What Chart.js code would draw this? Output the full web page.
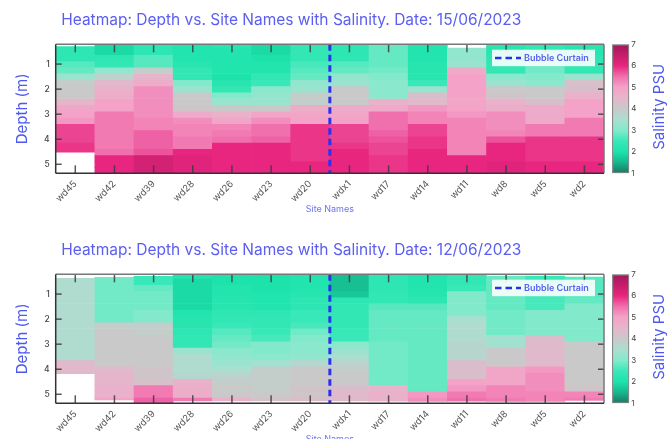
<!DOCTYPE html>
<html><head><meta charset="utf-8">
<script src="https://cdn.jsdelivr.net/npm/chart.js@4.4.0/dist/chart.umd.min.js"></script>
<style>
html,body{margin:0;padding:0;background:#fff;width:667px;height:439px;overflow:hidden;}
.c{position:absolute;}
</style></head><body>
<div class="c" style="left:0;top:0;"><canvas id="h1" width="610" height="230"></canvas></div>
<div class="c" style="left:606px;top:0;"><canvas id="c1" width="61" height="230"></canvas></div>
<div class="c" style="left:0;top:230px;"><canvas id="h2" width="610" height="230"></canvas></div>
<div class="c" style="left:606px;top:230px;"><canvas id="c2" width="61" height="230"></canvas></div>
<script>
// ---------- data ----------
const sites = ['wd45','wd42','wd39','wd28','wd26','wd23','wd20','wdx1','wd17','wd14','wd11','wd8','wd5','wd2'];
const depthBins = [0.25,0.5,0.75,1.0,1.25,1.5,1.75,2.0,2.25,2.5,2.75,3.0,3.25,3.5,3.75,4.0,4.25,4.5,4.75,5.0,5.25]; // bin centres (m)
const binHalfWidth = 0.125;
const depthRange = [0.21, 5.36];
const depthTicks = [1,2,3,4,5];
const salinityTicks = [1,2,3,4,5,6,7];
const bubbleCurtainAt = 6.5; // between wd20 and wdx1 (category index)
const dates = ['15/06/2023','12/06/2023'];

// 15/06/2023 salinity profiles (PSU) per site, one value per depth bin
const sal15_wd45 = [2.3,2.3,2.3,2.7,2.8,3.3,3.9,4.0,4.0,4.5,4.9,5.0,5.1,5.8,5.8,5.8,5.9,5.9,null,null,null];
const sal15_wd42 = [1.9,1.9,2.3,2.4,3.2,3.8,4.4,4.6,4.7,5.0,5.0,5.4,5.4,5.4,5.4,5.4,5.4,5.5,6.0,6.0,6.0];
const sal15_wd39 = [2.3,2.3,2.7,2.7,3.9,4.5,4.7,5.2,5.2,5.2,5.2,5.2,5.3,5.3,5.6,5.6,5.6,5.7,6.3,6.3,6.3];
const sal15_wd28 = [2.1,2.1,2.1,2.2,2.4,2.4,3.0,3.3,4.0,4.0,4.1,4.8,5.2,5.3,5.3,5.4,5.4,6.0,6.1,6.1,6.1];
const sal15_wd26 = [2.2,2.1,2.1,2.1,2.1,2.0,2.2,2.4,3.0,3.3,4.0,4.6,4.9,5.3,5.4,5.5,6.0,6.0,6.0,6.0,6.0];
const sal15_wd23 = [1.9,1.9,2.0,2.1,2.1,2.4,2.5,3.1,3.2,3.3,4.0,4.9,5.2,5.5,5.5,5.6,6.0,6.0,6.0,6.0,6.0];
const sal15_wd20 = [2.4,2.4,2.4,2.6,2.7,2.8,3.2,3.3,3.9,3.9,4.7,4.9,5.0,5.9,5.9,5.9,5.9,5.9,5.9,6.0,6.0];
const sal15_wdx1 = [2.3,2.3,2.3,2.7,2.8,3.2,3.3,4.0,4.0,4.0,4.8,4.9,5.0,5.8,5.8,5.8,5.9,6.0,6.0,6.0,6.0];
const sal15_wd17 = [2.8,2.8,2.8,2.8,2.9,3.0,3.1,3.1,3.1,4.6,4.8,5.5,5.5,5.5,5.6,5.7,5.8,5.8,5.9,5.9,5.9];
const sal15_wd14 = [2.1,2.1,2.1,2.2,2.2,2.2,2.5,3.3,4.3,4.4,5.1,5.3,5.3,5.8,5.8,5.9,5.9,6.0,6.0,6.0,6.0];
const sal15_wd11 = [3.2,3.2,3.2,3.3,4.8,5.0,5.0,5.0,5.0,4.9,5.0,5.1,5.3,5.3,5.3,5.3,5.3,5.3,6.0,6.0,6.0];
const sal15_wd8  = [2.2,2.2,2.3,2.4,2.4,3.1,3.3,4.0,4.1,4.6,4.7,5.2,5.2,5.2,5.3,5.7,6.0,6.0,6.0,6.1,6.1];
const sal15_wd5  = [2.4,2.4,2.5,2.8,2.9,3.0,3.1,4.0,4.0,4.3,4.8,4.8,4.8,5.4,5.4,5.9,5.9,5.9,5.9,6.0,6.0];
const sal15_wd2  = [2.2,2.2,2.3,2.4,2.4,3.3,4.2,4.3,4.6,5.0,5.0,5.0,5.4,5.4,5.4,5.9,5.9,5.9,5.9,6.0,6.0];
const top15    = [0.30,0.21,0.21,0.21,0.21,0.21,0.21,0.21,0.21,0.21,0.36,0.21,0.21,0.21];
const bottom15 = [4.52,5.36,5.36,5.36,5.36,5.36,5.36,5.36,5.36,5.36,5.36,5.36,5.36,5.36];

// 12/06/2023
const sal12_wd45 = [3.6,3.6,3.6,3.6,3.6,3.6,3.6,3.6,3.6,3.6,3.6,3.6,3.6,3.6,4.4,4.4,4.4,null,null,null,null];
const sal12_wd42 = [2.9,2.9,2.9,2.9,2.9,2.9,2.9,2.9,3.9,4.0,4.0,4.0,4.0,4.0,4.0,4.4,4.5,4.5,4.6,4.6,5.0];
const sal12_wd39 = [2.5,2.5,2.8,2.9,2.9,2.9,3.0,3.0,3.9,3.9,4.0,4.0,4.0,4.0,4.0,4.1,4.1,4.2,5.4,5.4,5.6];
const sal12_wd28 = [2.1,1.9,1.9,1.9,1.9,1.9,2.1,2.2,2.2,2.3,2.4,2.4,3.3,3.6,3.6,3.6,3.7,4.6,4.7,4.7,5.4];
const sal12_wd26 = [2.0,2.0,2.1,2.1,2.2,2.2,2.3,2.4,2.5,2.7,2.8,2.9,3.1,3.2,3.3,3.5,3.8,3.9,4.0,4.0,4.6];
const sal12_wd23 = [2.0,2.0,2.0,2.1,2.1,2.1,2.3,2.4,2.4,2.5,2.6,3.0,3.0,3.1,3.4,3.9,3.9,3.9,3.9,4.0,4.2];
const sal12_wd20 = [2.1,2.1,2.1,2.2,2.3,2.3,2.5,2.5,2.6,2.9,3.0,3.1,3.1,3.2,3.7,4.0,4.0,4.0,4.1,4.1,4.3];
const sal12_wdx1 = [1.6,1.6,1.6,1.7,2.3,2.4,2.4,2.4,2.4,2.5,2.5,3.1,3.3,3.5,3.8,3.9,4.0,4.0,4.3,4.4,4.4];
const sal12_wd17 = [2.3,2.3,2.3,2.4,2.4,2.7,2.8,2.8,2.8,2.8,2.8,2.9,2.9,2.9,2.9,2.9,2.9,2.9,4.5,4.6,4.6];
const sal12_wd14 = [2.1,2.1,2.1,2.2,2.3,2.7,2.8,2.8,2.8,2.8,2.8,2.8,2.8,2.8,2.8,2.8,2.8,2.8,2.8,5.1,5.2];
const sal12_wd11 = [2.4,2.4,2.5,3.0,3.0,3.0,3.0,3.5,3.6,3.6,3.6,3.7,3.7,3.7,4.3,4.3,4.3,5.0,5.1,5.4,5.5];
const sal12_wd8  = [2.8,2.8,2.8,2.8,2.8,2.8,2.9,2.9,2.9,2.9,3.4,3.4,4.0,4.0,4.0,4.9,4.9,4.9,5.3,5.3,5.4];
const sal12_wd5  = [2.5,2.5,2.5,2.6,2.6,2.6,3.0,3.0,3.0,3.0,4.3,4.4,4.4,4.4,4.4,5.1,5.2,5.2,5.2,5.3,5.3];
const sal12_wd2  = [2.7,2.7,2.7,2.7,2.8,3.0,3.0,3.0,3.0,3.0,3.0,4.0,4.0,4.0,4.0,4.0,4.0,4.0,4.1,5.3,5.4];
const top12    = [0.37,0.33,0.29,0.25,0.21,0.21,0.21,0.21,0.21,0.21,0.21,0.28,0.28,0.32];
const bottom12 = [4.18,5.23,5.33,5.26,5.26,5.26,5.26,5.26,5.27,5.28,5.27,5.28,5.28,5.25];

const sal15 = [sal15_wd45,sal15_wd42,sal15_wd39,sal15_wd28,sal15_wd26,sal15_wd23,sal15_wd20,sal15_wdx1,sal15_wd17,sal15_wd14,sal15_wd11,sal15_wd8,sal15_wd5,sal15_wd2];
const sal12 = [sal12_wd45,sal12_wd42,sal12_wd39,sal12_wd28,sal12_wd26,sal12_wd23,sal12_wd20,sal12_wdx1,sal12_wd17,sal12_wd14,sal12_wd11,sal12_wd8,sal12_wd5,sal12_wd2];

// ---------- colour map ----------
const cmapValues = [1,1.5,2,2.5,3,3.5,4,4.5,5,5.5,6,6.5,7];
const cmapColors = ['#1e7564','#16b68c','#1de3ab','#38e8b8','#82eacb','#aadfd0','#c9c9c9','#e6b5cb','#f4a2c7','#f070ae','#e8267f','#c51d6c','#a0195c'];
function hex2rgb(h){return [1,3,5].map(i=>parseInt(h.substr(i,2),16));}
function colorFor(v){
  if (v <= cmapValues[0]) return cmapColors[0];
  for (let k=1;k<cmapValues.length;k++){
    if (v <= cmapValues[k]){
      const t=(v-cmapValues[k-1])/(cmapValues[k]-cmapValues[k-1]);
      const a=hex2rgb(cmapColors[k-1]), b=hex2rgb(cmapColors[k]);
      return 'rgb('+a.map((x,i)=>Math.round(x+(b[i]-x)*t)).join(',')+')';
    }
  }
  return cmapColors[cmapColors.length-1];
}

Chart.defaults.font.family = 'Inter';
const TITLE_COLOR = '#5b5ef0';

function buildDatasets(profiles, tops, bottoms){
  const ds = depthBins.map((c,j)=>({
    type:'bar', label:'d'+c, order:1,
    data: sites.map((s,i)=>{
      const v = profiles[i][j];
      if (v == null) return null;
      const a = Math.max(c-binHalfWidth, tops[i]);
      const b = Math.min(c+binHalfWidth, bottoms[i]);
      return b > a ? [a,b] : null;
    }),
    backgroundColor: sites.map((s,i)=> profiles[i][j]==null ? 'rgba(0,0,0,0)' : colorFor(profiles[i][j])),
    borderWidth:0, grouped:false, barPercentage:1, categoryPercentage:1,
    xAxisID:'x', yAxisID:'y'
  }));
  ds.push({
    type:'line', label:'Bubble Curtain', order:0,
    data:[{x:bubbleCurtainAt,y:depthRange[0]},{x:bubbleCurtainAt,y:depthRange[1]}],
    xAxisID:'x2', yAxisID:'y', borderColor:'#2a30ee', borderWidth:3, borderDash:[6.5,4],
    pointRadius:0, fill:false, tension:0
  });
  return ds;
}

const framePlugin = {
  id:'frameAndLegend',
  afterLayout(chart){ if (chart.titleBlock){ chart.titleBlock.left += 5.5; chart.titleBlock.right += 5.5; } },
  afterDatasetsDraw(chart){
    const {ctx, chartArea:a, scales:{x,y}} = chart;
    ctx.save();
    ctx.strokeStyle='rgba(60,60,60,0.85)'; ctx.lineWidth=1.5;
    const ln=(x1,y1,x2,y2)=>{ctx.beginPath();ctx.moveTo(x1,y1);ctx.lineTo(x2,y2);ctx.stroke();};
    x.ticks.forEach((t,i)=>{const px=x.getPixelForTick(i); ln(px,a.top,px,a.top+8); ln(px,a.bottom,px,a.bottom-8);});
    y.ticks.forEach((t,i)=>{const py=y.getPixelForTick(i); ln(a.left,py,a.left+6,py); ln(a.right,py,a.right-6,py);});
    ctx.strokeStyle='#777'; ctx.lineWidth=1.5;
    ln(a.left,a.top,a.right,a.top); ln(a.right,a.top,a.right,a.bottom);
    ctx.strokeStyle='#333';
    ln(a.left,a.bottom,a.right,a.bottom); ln(a.left,a.top,a.left,a.bottom);
    // legend
    const ds = chart.data.datasets.find(d=>d.type==='line');
    const w=103, h=16.5, x0=a.right-9-w, y0=a.top+5.4;
    ctx.fillStyle='rgba(255,255,255,0.88)'; ctx.fillRect(x0,y0,w,h);
    ctx.strokeStyle=ds.borderColor; ctx.lineWidth=2.5; ctx.setLineDash(ds.borderDash);
    ln(x0+3,y0+h/2,x0+29,y0+h/2);
    ctx.setLineDash([]);
    ctx.fillStyle=TITLE_COLOR; ctx.font='600 9px Inter'; ctx.textBaseline='middle'; ctx.textAlign='left';
    ctx.fillText(ds.label, x0+32, y0+h/2+0.5);
    ctx.restore();
  }
};

function heatChart(id, profiles, tops, bottoms, date){
  return new Chart(document.getElementById(id), {
    type:'bar',
    data:{ labels: sites, datasets: buildDatasets(profiles, tops, bottoms) },
    options:{
      responsive:false, animation:false, events:[],
      layout:{padding:{left:0,right:6,top:0,bottom:0}},
      scales:{
        x:{ type:'category', offset:true, grid:{display:false,drawTicks:false}, border:{display:false},
            ticks:{autoSkip:false, minRotation:45, maxRotation:45, color:'#555', font:{size:9.5}, padding:5},
            title:{display:true, text:'Site Names', color:'#6c73f3', font:{size:9}, padding:{top:0,bottom:15}},
            afterFit(s){ s.height = 56.7; } },
        x2:{ type:'linear', display:false, min:-0.5, max:sites.length-0.5 },
        y:{ type:'linear', reverse:true, min:depthRange[0], max:depthRange[1],
            afterBuildTicks(s){ s.ticks = depthTicks.map(v=>({value:v})); },
            grid:{display:false,drawTicks:false}, border:{display:false},
            ticks:{color:'#444', font:{size:8.5, weight:'500'}, padding:6},
            title:{display:true, text:'Depth (m)', color:'#4d58ee', font:{size:15, weight:'normal'}, padding:{top:13.5,bottom:0}},
            afterFit(s){ s.width = 55.7; } }
      },
      plugins:{
        legend:{display:false}, tooltip:{enabled:false},
        title:{display:true, fullSize:false, align:'start', text:'Heatmap: Depth vs. Site Names with Salinity. Date: '+date,
               color:TITLE_COLOR, font:{size:15.5, weight:'normal'}, padding:{top:10.7,bottom:15}}
      }
    },
    plugins:[framePlugin]
  });
}

const cbarTitlePlugin = {
  id:'cbarTitle',
  afterDraw(chart){
    const {ctx, chartArea:a} = chart;
    ctx.save();
    ctx.translate(53.5, (a.top+a.bottom)/2 - 2);
    ctx.rotate(-Math.PI/2);
    ctx.font='normal 15px Inter'; ctx.fillStyle='#4d58ee'; ctx.textAlign='center'; ctx.textBaseline='middle';
    ctx.fillText('Salinity PSU',0,0);
    ctx.restore();
  }
};

function colorBar(id){
  return new Chart(document.getElementById(id), {
    type:'bar',
    data:{ labels:['Salinity PSU'], datasets:[{
      data:[[salinityTicks[0], salinityTicks[salinityTicks.length-1]]],
      backgroundColor(ctx){
        const c=ctx.chart; const s=c.scales.y; if(!c.chartArea||!s) return '#ccc';
        const g=c.ctx.createLinearGradient(0,s.getPixelForValue(salinityTicks[0]),0,s.getPixelForValue(salinityTicks[salinityTicks.length-1]));
        cmapValues.forEach((v,i)=>g.addColorStop((v-cmapValues[0])/(cmapValues[cmapValues.length-1]-cmapValues[0]), cmapColors[i]));
        return g;
      },
      borderColor:'#8a8a8a', borderWidth:1.5, borderSkipped:false, barPercentage:1, categoryPercentage:1
    }]},
    options:{
      responsive:false, animation:false, events:[],
      layout:{padding:{left:6,right:0,top:44.3,bottom:230-173.3}},
      scales:{
        x:{display:false, offset:true},
        y:{ position:'right', min:salinityTicks[0], max:salinityTicks[salinityTicks.length-1],
            afterBuildTicks(s){ s.ticks = salinityTicks.map(v=>({value:v})); },
            grid:{display:false,drawTicks:false}, border:{display:false},
            ticks:{color:'#444', font:{size:8}, padding:2},
            afterFit(s){ s.width = 37.7; } }
      },
      plugins:{legend:{display:false}, tooltip:{enabled:false}}
    },
    plugins:[cbarTitlePlugin]
  });
}

heatChart('h1', sal15, top15, bottom15, dates[0]);
colorBar('c1');
heatChart('h2', sal12, top12, bottom12, dates[1]);
colorBar('c2');
</script>
</body></html>
